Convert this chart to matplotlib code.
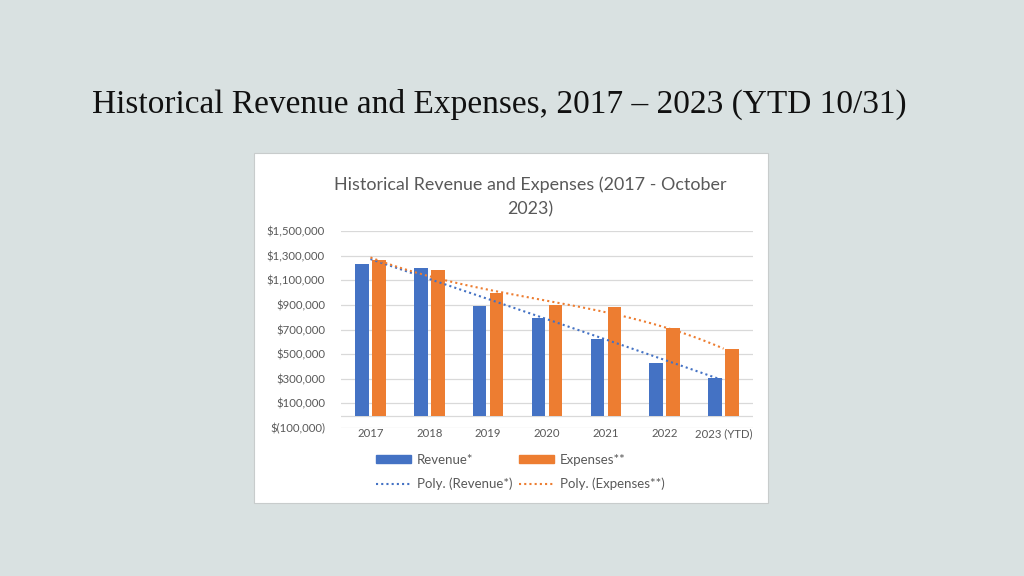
import matplotlib.pyplot as plt
import numpy as np
from matplotlib.patches import Rectangle
from matplotlib.lines import Line2D

# Chart data
years = ['2017', '2018', '2019', '2020', '2021', '2022', '2023 (YTD)']
revenue = [1231000, 1203000, 889000, 797000, 621000, 426000, 304000]
expenses = [1268000, 1182000, 995000, 897000, 884000, 710000, 542000]
yticks = [-100000, 100000, 300000, 500000, 700000, 900000, 1100000, 1300000, 1500000]

blue = '#4472C4'
orange = '#ED7D31'
gray = '#595959'

W, H = 1024, 576
fig = plt.figure(figsize=(W / 100, H / 100), dpi=100)
fig.patch.set_facecolor('#d9e1e1')

# Slide title
fig.text(92 / W, 1 - 104 / H, 'Historical Revenue and Expenses, 2017 \u2013 2023 (YTD 10/31)',
         family='Liberation Serif', fontsize=24, color='#111111', ha='left', va='center')

# White chart panel
fig.patches.append(Rectangle((254 / W, 1 - 503 / H), 514 / W, 350 / H, transform=fig.transFigure,
                             facecolor='white', edgecolor='#c8cccc', lw=0.8, zorder=-1))

fig.text(530 / W, 1 - 197 / H, 'Historical Revenue and Expenses (2017 - October\n2023)',
         family='Lato', fontsize=12.9, color=gray, ha='center', va='center', linespacing=1.6)

ax = fig.add_axes([341 / W, 1 - 428 / H, 412 / W, 197 / H])
ax.set_zorder(2)
ax.set_facecolor('none')

x = np.arange(len(years))
w = 0.23
ax.bar(x - 0.145, revenue, w, color=blue, zorder=3)
ax.bar(x + 0.145, expenses, w, color=orange, zorder=3)

# Polynomial trendlines (like Excel's Poly. trendline)
xs = np.linspace(0, len(years) - 1, 200)
rev_fit = np.polyval(np.polyfit(x, revenue, 2), xs)
exp_fit = np.polyval(np.polyfit(x, expenses, 3), xs)
ax.plot(xs, rev_fit, color=blue, ls=(0, (1, 1.5)), lw=1.5, zorder=4)
ax.plot(xs, exp_fit, color=orange, ls=(0, (1, 1.5)), lw=1.5, zorder=4)

ax.set_xlim(-0.5, len(years) - 0.5)
ax.set_ylim(-100000, 1500000)
ax.set_yticks(yticks)
ax.set_yticklabels(['$(100,000)' if v < 0 else '${:,}'.format(v) for v in yticks])
ax.yaxis.grid(True, color='#d9d9d9', lw=0.9, zorder=0)
ax.axhline(0, color='#d9d9d9', lw=0.9, zorder=2)
ax.set_xticks(x)
ax.set_xticklabels(years)
ax.tick_params(length=0, labelsize=8.2, labelcolor=gray)
ax.tick_params(axis='y', pad=11.5)
ax.tick_params(axis='x', pad=0)
for lab in ax.get_xticklabels() + ax.get_yticklabels():
    lab.set_family('Lato')
for s in ax.spines.values():
    s.set_visible(False)

# Legend
handles = [Rectangle((0, 0), 1, 1, color=blue), Rectangle((0, 0), 1, 1, color=orange),
           Line2D([], [], color=blue, ls=(0, (1, 1.5)), lw=1.5),
           Line2D([], [], color=orange, ls=(0, (1, 1.5)), lw=1.5)]
labels = ['Revenue*', 'Expenses**', 'Poly. (Revenue*)', 'Poly. (Expenses**)']
leg = fig.legend([handles[0], handles[2], handles[1], handles[3]],
                 [labels[0], labels[2], labels[1], labels[3]],
                 ncol=2, loc='center', bbox_to_anchor=(520 / W, 1 - 472 / H),
                 frameon=False, prop={'family': 'Lato', 'size': 9.5},
                 handlelength=2.7, handleheight=0.6, handletextpad=0.4,
                 columnspacing=0.5, labelspacing=0.9)
for t in leg.get_texts():
    t.set_color(gray)

fig.savefig('out.png', dpi=100, facecolor=fig.get_facecolor())
